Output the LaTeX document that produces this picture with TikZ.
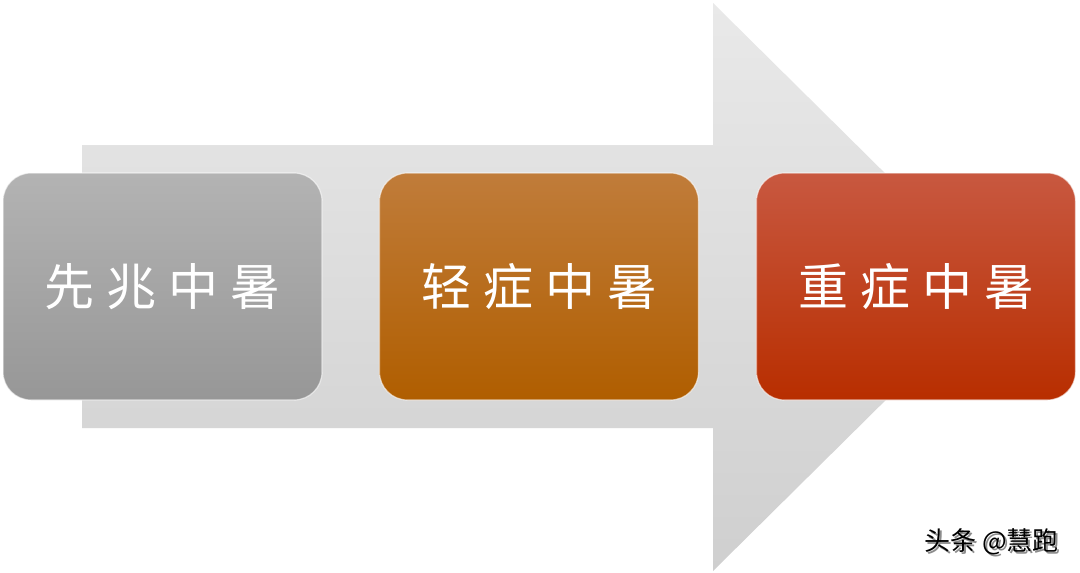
\documentclass[tikz,border=0pt]{standalone}
\usepackage{fontspec}
\newfontfamily\cjk{Noto Sans CJK SC}
\usetikzlibrary{shadings}
\definecolor{arrowtop}{HTML}{E9E9E9}
\definecolor{arrowbot}{HTML}{CFCFCF}
\definecolor{grayA}{HTML}{B3B3B3}
\definecolor{grayB}{HTML}{979797}
\definecolor{orangeA}{HTML}{C07C3A}
\definecolor{orangeB}{HTML}{B05E00}
\definecolor{redA}{HTML}{C85840}
\definecolor{redB}{HTML}{B82E00}
\tikzset{
  stagebox/.style={rounded corners=28pt, minimum width=319pt, minimum height=227pt,
    draw=white, draw opacity=0.6, line width=1.2pt, inner sep=0pt,
    text=white, font=\cjk\fontsize{50}{50}\selectfont},
  wmark/.style={font=\cjk\fontsize{26}{26}\selectfont, text=black}
}
\newcommand{\chgap}{\hspace{12pt}}
\begin{document}
\begin{tikzpicture}[x=1pt,y=-1pt]
\useasboundingbox (0,0) rectangle (1080,573);
\fill[white] (0,0) rectangle (1080,573);
% big arrow
\shade[top color=arrowtop, bottom color=arrowbot]
  (82,145) -- (713,145) -- (713,3) -- (1000,287) -- (713,571) -- (713,428) -- (82,428) -- cycle;
% boxes
\node[stagebox, top color=grayA, bottom color=grayB] (b1) at (162.5,286.5) {先\chgap 兆\chgap 中\chgap 暑};
\node[stagebox, top color=orangeA, bottom color=orangeB] (b2) at (539,286.5) {轻\chgap 症\chgap 中\chgap 暑};
\node[stagebox, top color=redA, bottom color=redB] (b3) at (916,286.5) {重\chgap 症\chgap 中\chgap 暑};
% watermark
\node[wmark, text=white!55!black] (wms) at (993.5,543.5) {头条 @慧跑};
\node[wmark] (wm) at (991.5,541.5) {头条 @慧跑};
\end{tikzpicture}
\end{document}
